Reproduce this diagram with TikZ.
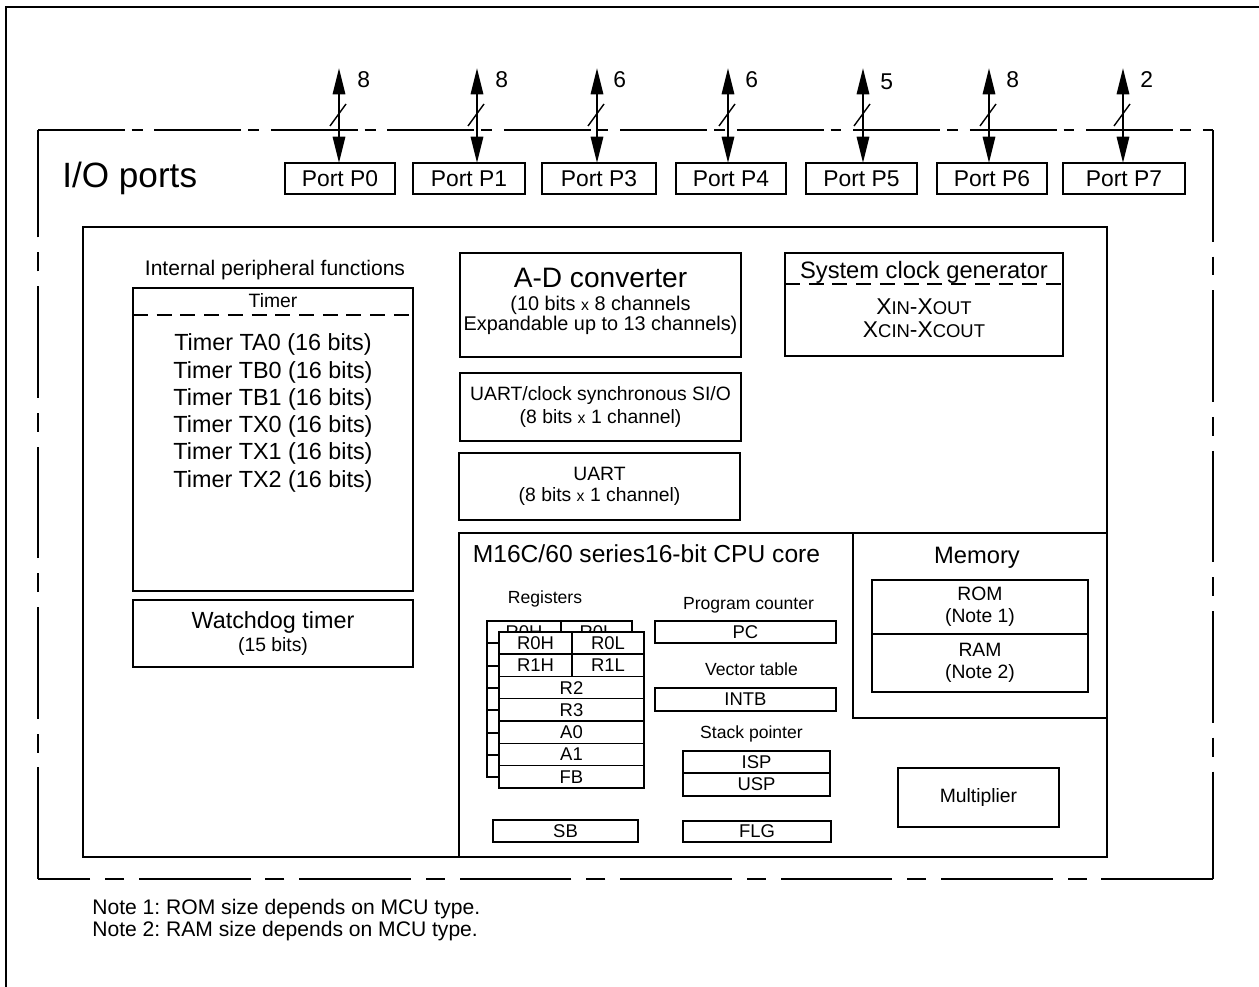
\documentclass[tikz,border=0pt]{standalone}
\usepackage{fontspec}
\setmainfont{Liberation Sans}
\usetikzlibrary{arrows.meta}
\frenchspacing

\newcommand{\lowcap}[1]{{\fontsize{10.5}{13}\selectfont #1}}
\newcommand{\timesx}{{\fontsize{9}{9}\selectfont x}}

\begin{document}
\begin{tikzpicture}[x=0.02cm, y=-0.02cm,
    box/.style={draw, line width=0.8pt, inner sep=0pt, outer sep=0pt, align=center},
    port/.style={box, minimum height=0.62cm, font=\fontsize{13}{15}\selectfont},
    reg/.style={box, fill=white, font=\fontsize{10.5}{12}\selectfont},
    txt/.style={inner sep=0pt, align=center},
    num/.style={txt, anchor=base west, font=\fontsize{13}{15}\selectfont},
    bus/.style={line width=1.3pt, {Triangle[length=15pt,width=7pt]}-{Triangle[length=15pt,width=7pt]}},
    iotop/.style={line width=0.8pt, dash pattern=on 49.3pt off 4pt on 6.2pt off 6.8pt},
    ioside/.style={line width=0.8pt, dash pattern=on 63.5pt off 8.5pt on 10.8pt off 8.5pt},
    sep/.style={line width=0.8pt, dash pattern=on 8.5pt off 5pt}]
    \useasboundingbox (0,0) rectangle (1259,987);
    \draw[line width=1.4pt] (6,1000) -- (6,7) -- (1270,7);

    \coordinate (ionw) at (38,130);
    \coordinate (ione) at (1213,130);
    \coordinate (iose) at (1213,879);
    \coordinate (iosw) at (38,879);
    \draw[iotop] (ionw) -- (ione);
    \draw[ioside] (ione) -- (iose);
    \draw[ioside] (iose) -- (iosw);
    \draw[ioside] (iosw) -- (ionw);
    \draw (62,187) node[txt, anchor=base west, font=\fontsize{20}{24}\selectfont] (io) {I/O ports};

    \draw (340,178.5) node[port, minimum width=2.2cm] (p0) {Port P0};
    \draw (469,178.5) node[port, minimum width=2.24cm] (p1) {Port P1};
    \draw (599,178.5) node[port, minimum width=2.28cm] (p3) {Port P3};
    \draw (731,178.5) node[port, minimum width=2.2cm] (p4) {Port P4};
    \draw (861.5,178.5) node[port, minimum width=2.22cm] (p5) {Port P5};
    \draw (992,178.5) node[port, minimum width=2.2cm] (p6) {Port P6};
    \draw (1124,178.5) node[port, minimum width=2.44cm] (p7) {Port P7};

    \coordinate (t0) at (339,68);
    \coordinate (t1) at (477,68);
    \coordinate (t3) at (597,68);
    \coordinate (t4) at (728,68);
    \coordinate (t5) at (863,68);
    \coordinate (t6) at (989,68);
    \coordinate (t7) at (1123,68);
    \path[bus] (t0) edge (t0 |- p0.north)
               (t1) edge (t1 |- p1.north)
               (t3) edge (t3 |- p3.north)
               (t4) edge (t4 |- p4.north)
               (t5) edge (t5 |- p5.north)
               (t6) edge (t6 |- p6.north)
               (t7) edge (t7 |- p7.north);
    \draw[line width=0.8pt] (t0) ++(-9,58) -- ++(16,-22)
                            (t1) ++(-9,58) -- ++(16,-22)
                            (t3) ++(-9,58) -- ++(16,-22)
                            (t4) ++(-9,58) -- ++(16,-22)
                            (t5) ++(-9,58) -- ++(16,-22)
                            (t6) ++(-9,58) -- ++(16,-22)
                            (t7) ++(-9,58) -- ++(16,-22);
    \draw (357,87) node[num] (n0) {8};
    \draw (495,87) node[num] (n1) {8};
    \draw (613,87) node[num] (n3) {6};
    \draw (745,87) node[num] (n4) {6};
    \draw (880,90) node[num] (n5) {5};
    \draw (1006,87) node[num] (n6) {8};
    \draw (1140,87) node[num] (n7) {2};

    \draw (595,542) node[box, minimum width=20.48cm, minimum height=12.6cm] (chip) {};

    \draw (275,275) node[txt, anchor=base, font=\fontsize{12}{14}\selectfont] (intper) {Internal peripheral functions};
    \draw (273,439.5) node[box, minimum width=5.6cm, minimum height=6.06cm] (timer) {};
    \draw (273,307) node[txt, anchor=base, font=\fontsize{11}{13}\selectfont] (timerhd) {Timer};
    \draw[sep] (timer.west |- 0,315) -- (timer.east |- 0,315);
    \draw (273,413) node[txt, font=\fontsize{13.3}{15.5}\selectfont] (timers) {Timer TA0 (16 bits)\\Timer TB0 (16 bits)\\Timer TB1 (16 bits)\\Timer TX0 (16 bits)\\Timer TX1 (16 bits)\\Timer TX2 (16 bits)};
    \draw (273,633.5) node[box, minimum width=5.6cm, minimum height=1.34cm, font=\fontsize{11}{13.5}\selectfont] (wdt) {{\fontsize{13.3}{13.5}\selectfont Watchdog timer}\\(15 bits)};

    \draw (600.5,305) node[box, minimum width=5.62cm, minimum height=2.08cm] (adc) {};
    \draw (600.5,301) node[txt, font=\fontsize{11.3}{11.3}\selectfont] (adctxt) {{\fontsize{16}{16}\selectfont A-D converter}\\[1.9pt](10 bits \timesx{} 8 channels\\Expandable up to 13 channels)};
    \draw (600.5,407) node[box, minimum width=5.62cm, minimum height=1.36cm, font=\fontsize{11}{13.5}\selectfont] (sio) {UART/clock synchronous SI/O\\(8 bits \timesx{} 1 channel)};
    \draw (599.5,486.5) node[box, minimum width=5.62cm, minimum height=1.34cm, font=\fontsize{11}{12}\selectfont] (uart) {UART\\(8 bits \timesx{} 1 channel)};

    \draw (924,304.5) node[box, minimum width=5.56cm, minimum height=2.06cm] (clk) {};
    \draw (924,278.5) node[txt, anchor=base, font=\fontsize{13.5}{15}\selectfont] (clkhd) {System clock generator};
    \draw[sep] (clk.west |- 0,284) -- (clk.east |- 0,284);
    \draw (924,318.5) node[txt, font=\fontsize{13}{13}\selectfont] (clktxt) {X\lowcap{IN}-X\lowcap{OUT}\\X\lowcap{CIN}-X\lowcap{COUT}};

    \draw (783,695) node[box, minimum width=12.96cm, minimum height=6.48cm] (cpu) {};
    \draw (646.5,562) node[txt, anchor=base, font=\fontsize{14}{16}\selectfont] (cpuhd) {M16C/60 series16-bit CPU core};
    \draw (980,625.5) node[box, minimum width=5.08cm, minimum height=3.7cm] (mem) {};
    \draw (977,563) node[txt, anchor=base, font=\fontsize{13.5}{15}\selectfont] (memhd) {Memory};
    \draw (980,607) node[box, minimum width=4.32cm, minimum height=1.08cm, font=\fontsize{11}{12.5}\selectfont] (rom) {ROM\\(Note 1)};
    \draw (980,663) node[box, minimum width=4.32cm, minimum height=1.16cm, font=\fontsize{11}{12.5}\selectfont] (ram) {RAM\\(Note 2)};
    \draw (978.5,797.5) node[box, minimum width=3.22cm, minimum height=1.18cm, font=\fontsize{11}{13}\selectfont] (mul) {Multiplier};

    \draw (545,603) node[txt, anchor=base, font=\fontsize{10}{12}\selectfont] (reghd) {Registers};
    \draw (559.5,699) node[box, minimum width=2.9cm, minimum height=3.12cm] (regback) {};
    \draw[line width=0.8pt] (regback.north -| 561,0) -- ++(0,22);
    \draw (524,632) node[txt, font=\fontsize{10.5}{12}\selectfont] (b0h) {R0H};
    \draw (596.5,632) node[txt, font=\fontsize{10.5}{12}\selectfont] (b0l) {R0L};
    \draw[line width=0.8pt] (487,643) -- ++(12,0) (487,666) -- ++(12,0) (487,688) -- ++(12,0)
                            (487,710) -- ++(12,0) (487,733) -- ++(12,0) (487,755) -- ++(12,0);
    \draw (535.5,643) node[reg, minimum width=1.46cm, minimum height=0.446cm] (r0h) {R0H};
    \draw (608,643) node[reg, minimum width=1.44cm, minimum height=0.446cm] (r0l) {R0L};
    \draw (535.5,665.3) node[reg, minimum width=1.46cm, minimum height=0.446cm] (r1h) {R1H};
    \draw (608,665.3) node[reg, minimum width=1.44cm, minimum height=0.446cm] (r1l) {R1L};
    \draw (571.5,687.6) node[reg, minimum width=2.9cm, minimum height=0.446cm] (r2) {R2};
    \draw (571.5,709.9) node[reg, minimum width=2.9cm, minimum height=0.446cm] (r3) {R3};
    \draw (571.5,732.2) node[reg, minimum width=2.9cm, minimum height=0.446cm] (a0) {A0};
    \draw (571.5,754.5) node[reg, minimum width=2.9cm, minimum height=0.446cm] (a1) {A1};
    \draw (571.5,776.8) node[reg, minimum width=2.9cm, minimum height=0.446cm] (fb) {FB};
    \draw (565.5,831) node[reg, minimum width=2.9cm, minimum height=0.44cm] (sb) {SB};

    \draw (748.5,609) node[txt, anchor=base, font=\fontsize{10}{12}\selectfont] (pchd) {Program counter};
    \draw (745.5,632) node[reg, minimum width=3.62cm, minimum height=0.44cm] (pc) {PC};
    \draw (751.5,675) node[txt, anchor=base, font=\fontsize{10}{12}\selectfont] (vechd) {Vector table};
    \draw (745.5,699.5) node[reg, minimum width=3.62cm, minimum height=0.46cm] (intb) {INTB};
    \draw (751.5,738) node[txt, anchor=base, font=\fontsize{10}{12}\selectfont] (sphd) {Stack pointer};
    \draw (756.5,762) node[reg, minimum width=2.94cm, minimum height=0.44cm] (isp) {ISP};
    \draw (756.5,784.5) node[reg, minimum width=2.94cm, minimum height=0.46cm] (usp) {USP};
    \draw (757,831.5) node[reg, minimum width=2.96cm, minimum height=0.42cm] (flg) {FLG};

    \draw (92,920) node[txt, anchor=west, align=left, font=\fontsize{12}{10}\selectfont] (notes) {Note 1: ROM size depends on MCU type.\\Note 2: RAM size depends on MCU type.};
\end{tikzpicture}
\end{document}
